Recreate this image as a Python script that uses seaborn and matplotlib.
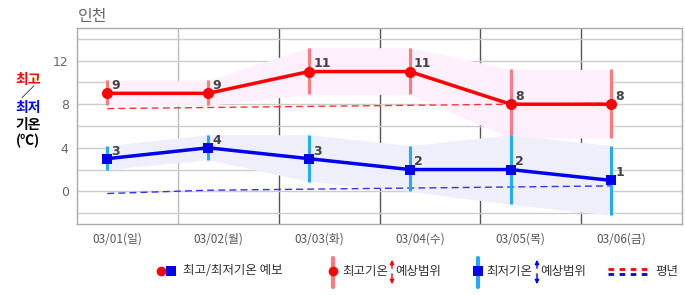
import matplotlib
matplotlib.use("Agg")
import matplotlib.pyplot as plt
from matplotlib.lines import Line2D
import seaborn as sns
import pandas as pd
import numpy as np

# ---- data ----
dates = ["03/01(일)", "03/02(월)", "03/03(화)", "03/04(수)", "03/05(목)", "03/06(금)"]
max_temp = [9, 9, 11, 11, 8, 8]
max_low = [7.9, 7.9, 8.9, 8.9, 4.9, 4.9]
max_high = [10.2, 10.2, 13.2, 13.2, 11.2, 11.2]
min_temp = [3, 4, 3, 2, 2, 1]
min_low = [2.0, 2.9, 0.9, 0.0, -1.2, -2.2]
min_high = [4.2, 5.2, 5.2, 4.2, 5.2, 4.2]
normal_max = [7.6, 7.7, 7.8, 7.9, 8.0, 8.1]
normal_min = [-0.2, 0.1, 0.2, 0.3, 0.4, 0.5]
y_ticks = [0, 4, 8, 12]

sns.set_theme(style="white")
plt.rcParams["font.family"] = ["Noto Sans CJK KR", "DejaVu Sans"]

W, H = 686, 295
fig = plt.figure(figsize=(W / 100, H / 100), dpi=100)
ax = fig.add_axes([77 / W, (H - 224) / H, (682 - 77) / W, (224 - 28) / H])

n = len(dates)
xpos = np.arange(n) + 0.3
df = pd.DataFrame({"x": xpos, "max": max_temp, "min": min_temp,
                   "nmax": normal_max, "nmin": normal_min})

# bands
ax.fill_between(xpos, max_low, max_high, color="#fdeffc", lw=0, zorder=1)
ax.fill_between(xpos, min_low, min_high, color="#efeffc", lw=0, zorder=1)

# normals
sns.lineplot(data=df, x="x", y="nmax", ax=ax, color="#ff3333", lw=1.0,
             linestyle=(0, (5, 3)), zorder=2)
sns.lineplot(data=df, x="x", y="nmin", ax=ax, color="#3333ee", lw=1.0,
             linestyle=(0, (5, 3)), zorder=2)

# range bars
ax.vlines(xpos, max_low, max_high, color="#ff7b7b", lw=2.2, zorder=3)
ax.vlines(xpos, min_low, min_high, color="#22aaff", lw=2.2, zorder=3)

# main lines
sns.lineplot(data=df, x="x", y="max", ax=ax, color="#ff0000", lw=2.5,
             marker="o", markersize=8, markeredgewidth=0, zorder=4)
sns.lineplot(data=df, x="x", y="min", ax=ax, color="#0000ee", lw=2.5,
             marker="s", markersize=7.5, markeredgewidth=0, zorder=4)

for xi, v in zip(xpos, max_temp):
    ax.annotate(str(v), (xi, v), xytext=(3, 3), textcoords="offset points",
                fontsize=9, fontweight="bold", color="#444444", zorder=6,
                family=["DejaVu Sans"])
for xi, v in zip(xpos, min_temp):
    ax.annotate(str(v), (xi, v), xytext=(3, 3), textcoords="offset points",
                fontsize=9, fontweight="bold", color="#444444", zorder=6,
                family=["DejaVu Sans"])

ax.set_xlim(0, n)
ax.set_ylim(-3, 15)
ax.set_yticks(y_ticks)
ax.set_yticks(np.arange(-2, 15, 2), minor=True)
ax.set_yticklabels([str(t) for t in y_ticks], color="#666666", fontsize=9,
                   family=["DejaVu Sans"])
ax.set_xticks(np.arange(n) + 0.4)
ax.set_xticklabels(dates, color="#555555", fontsize=8.5)
ax.tick_params(axis="both", which="both", length=0, pad=6)
ax.grid(axis="y", which="both", color="#cccccc", lw=1)
ax.set_axisbelow(True)
for i in range(1, n):
    ax.axvline(i, color="#bbbbbb" if i == 1 else "#555555", lw=1, zorder=0.5)
ax.set_xlabel("")
ax.set_ylabel("")
for s in ax.spines.values():
    s.set_color("#aaaaaa")
    s.set_linewidth(1)

fig.text(78 / W, 1 - 16 / H, "인천", fontsize=11.5, color="#666666", va="center", ha="left")

# y label
ylab = [("최고", "#ff0000", 80), ("／", "#000000", 94), ("최저", "#0000ff", 108),
        ("기온", "#000000", 125), ("(℃)", "#000000", 141)]
for t, c, yy in ylab:
    fig.text(28 / W, 1 - yy / H, t, color=c, fontsize=10, fontweight="bold",
             ha="center", va="center")

# legend drawn in a pixel-space overlay
lg = fig.add_axes([0, 0, 1, 1], facecolor="none")
lg.set_xlim(0, W)
lg.set_ylim(H, 0)
lg.axis("off")
ly = 271
lg.add_line(Line2D([161], [ly], marker="o", color="#ff0000", markersize=7, mew=0))
lg.add_line(Line2D([171], [ly], marker="s", color="#0000ee", markersize=7, mew=0))
lg.text(183, ly, "최고/최저기온 예보", fontsize=9, color="#333333", va="center")
lg.add_line(Line2D([333, 333], [258, 287], color="#ff7b7b", lw=3))
lg.add_line(Line2D([333], [ly], marker="o", color="#ff0000", markersize=7, mew=0))
lg.text(342, ly, "최고기온", fontsize=9, color="#333333", va="center")
lg.annotate("", xy=(392, 257), xytext=(392, 271),
            arrowprops=dict(arrowstyle="-|>", color="#ff0000", lw=1, mutation_scale=6))
lg.annotate("", xy=(392, 287), xytext=(392, 271),
            arrowprops=dict(arrowstyle="-|>", color="#ff0000", lw=1, mutation_scale=6))
lg.text(395, ly, "예상범위", fontsize=9, color="#333333", va="center")
lg.add_line(Line2D([478, 478], [258, 287], color="#22aaff", lw=3))
lg.add_line(Line2D([478], [ly], marker="s", color="#0000ee", markersize=7, mew=0))
lg.text(486, ly, "최저기온", fontsize=9, color="#333333", va="center")
lg.annotate("", xy=(537, 257), xytext=(537, 271),
            arrowprops=dict(arrowstyle="-|>", color="#0000ee", lw=1, mutation_scale=6))
lg.annotate("", xy=(537, 287), xytext=(537, 271),
            arrowprops=dict(arrowstyle="-|>", color="#0000ee", lw=1, mutation_scale=6))
lg.text(540, ly, "예상범위", fontsize=9, color="#333333", va="center")
lg.add_line(Line2D([608, 647], [269, 269], color="#ff0000", lw=2, linestyle=(0, (2, 2))))
lg.add_line(Line2D([608, 647], [274, 274], color="#0000ee", lw=2, linestyle=(0, (2, 2))))
lg.text(655, ly, "평년", fontsize=9, color="#333333", va="center")

fig.savefig("out.png", dpi=100)
